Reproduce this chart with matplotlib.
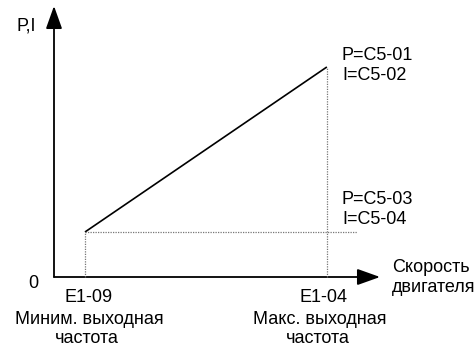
import matplotlib
matplotlib.use("Agg")
import matplotlib.pyplot as plt
from matplotlib.patches import FancyArrowPatch

plt.rcParams['font.family'] = ['Liberation Sans', 'DejaVu Sans']

# Motor speed (percent of axis span): minimum and maximum output frequency
speed = [9.5, 83.7]
# P / I gain values (percent of axis span) at min and max speed
gain = [16.6, 77.5]
speed_ticks = ["E1-09", "E1-04"]
speed_names = [["Миним. выходная", "частота"], ["Макс. выходная", "частота"]]
gain_labels = [["P=C5-03", "I=C5-04"], ["P=C5-01", "I=C5-02"]]

W, H = 477, 349
fig = plt.figure(figsize=(W / 100, H / 100), dpi=100)
x0, y0 = 54, 277           # origin in pixels
x1, y1 = 380, 6            # arrow tips in pixels
ax = fig.add_axes([x0 / W, (H - y0) / H, (x1 - x0) / W, (y0 - y1) / H])
ax.set_xlim(0, 100)
ax.set_ylim(0, 100)
ax.axis('off')


def px(x, y):
    """Figure pixel position -> axis units."""
    return (x - x0) / (x1 - x0) * 100, (y0 - y) / (y0 - y1) * 100


fs = 13.0
black = "#000000"

# Axes with arrowheads
for end in [(100, 0), (0, 100)]:
    arr = FancyArrowPatch((0, 0), end, arrowstyle="-|>,head_length=14,head_width=5",
                          mutation_scale=1, lw=1.3, color=black,
                          shrinkA=0, shrinkB=0, clip_on=False)
    ax.add_patch(arr)

# Gain curve
ax.plot(speed, gain, color=black, lw=1.2, solid_capstyle='butt', clip_on=False)

# Guide lines
dot = dict(color="#777777", lw=0.9, ls=(0, (1, 1)), clip_on=False)
ax.plot([speed[0], speed[0]], [0, gain[0]], **dot)
ax.plot([speed[1], speed[1]], [0, gain[1]], **dot)
ax.plot([speed[0], px(357, 0)[0]], [gain[0], gain[0]], **dot)


def label(x, y, s, ha='center', va='center'):
    ax.text(*px(x, y), s, fontsize=fs, ha=ha, va=va, clip_on=False)


# Axis labels
label(36, 26, "P,I", ha='right')
label(38, 283, "0", ha='right')
label(392, 267, "Скорость", ha='left')
label(392, 288, "двигателя", ha='left')

# Speed tick labels
label(89, 297, speed_ticks[0])
label(89, 319, speed_names[0][0])
label(87, 347, speed_names[0][1], va='bottom')
label(324, 297, speed_ticks[1])
label(319.5, 320, speed_names[1][0])
label(317.5, 347, speed_names[1][1], va='bottom')

# Gain labels
label(342, 55, gain_labels[1][0], ha='left')
label(342, 76, gain_labels[1][1], ha='left')
label(342, 199, gain_labels[0][0], ha='left')
label(342, 220, gain_labels[0][1], ha='left')

fig.savefig("out.png", dpi=100)
